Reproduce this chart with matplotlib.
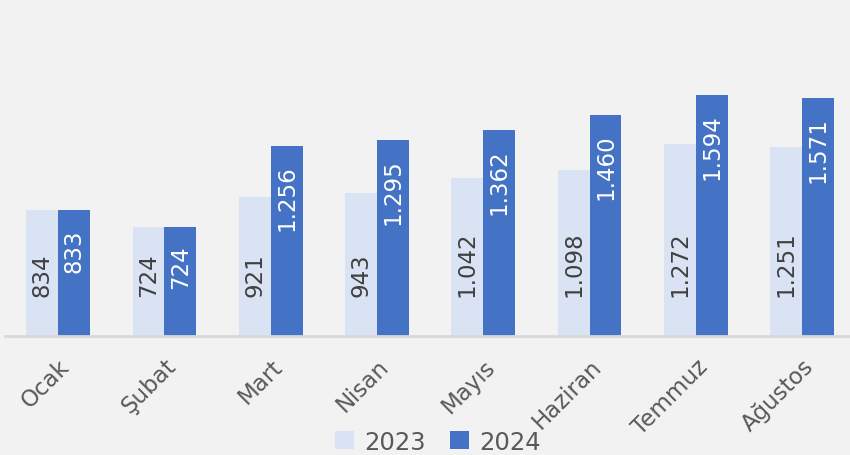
import numpy as np
import matplotlib
matplotlib.use('Agg')
import matplotlib.pyplot as plt

## DATA
months = ['Ocak', 'Şubat', 'Mart', 'Nisan', 'Mayıs', 'Haziran', 'Temmuz', 'Ağustos']
vals_2023 = [834, 724, 921, 943, 1042, 1098, 1272, 1251]
vals_2024 = [833, 724, 1256, 1295, 1362, 1460, 1594, 1571]

def fmt(v):
    return '{:,}'.format(v).replace(',', '.')

## FIGURE
fig = plt.figure(figsize=(8.5, 4.56), dpi=100)
fig.patch.set_facecolor('#f2f2f2')
ax = fig.add_axes([5/850, 119/456, 845/850, 337/456])
ax.set_facecolor('#f2f2f2')

x = np.arange(len(months))
w = 0.3
b1 = ax.bar(x - w/2, vals_2023, w, color='#dae3f3', label='2023')
b2 = ax.bar(x + w/2, vals_2024, w, color='#4472c4', label='2024')

# LABELS
for xi, v in zip(x, vals_2023):
    ax.annotate(fmt(v), (xi - w/2, 0), xytext=(0, 40), textcoords='offset pixels',
                rotation=90, ha='center', va='bottom', fontsize=16.5, color='#404040')
for xi, v in zip(x, vals_2024):
    ax.annotate(fmt(v), (xi + w/2, v), xytext=(0, -18), textcoords='offset pixels',
                rotation=90, ha='center', va='top', fontsize=16.5, color='white')

ax.set_xlim(-0.5, 7.45)
ax.set_ylim(0, 2229)
ax.set_yticks([])
ax.set_xticks(x)
ax.set_xticklabels(months, rotation=45, ha='right', rotation_mode='anchor',
                   fontsize=16.5, color='#595959')
ax.tick_params(axis='x', length=0, pad=13)
for s in ['top', 'right', 'left']:
    ax.spines[s].set_visible(False)
ax.spines['bottom'].set_color('#d9d9d9')
ax.spines['bottom'].set_linewidth(2)

leg = fig.legend(loc='lower center', bbox_to_anchor=(0.515, -0.045), ncol=2, frameon=False,
                 fontsize=17.5, handlelength=0.8, handleheight=0.8, handletextpad=0.4,
                 columnspacing=1.0)
for t in leg.get_texts():
    t.set_color('#595959')

plt.savefig('out.png', dpi=100, facecolor=fig.get_facecolor())
